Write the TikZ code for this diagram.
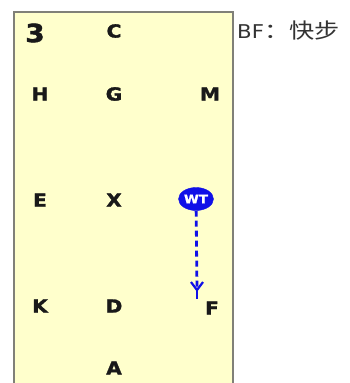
\documentclass[tikz,border=0pt]{standalone}
\usepackage{fontspec}
\setmainfont{DejaVu Sans}
\newfontfamily\letterfont[FakeStretch=1.12, BoldFeatures={FakeBold=1.6}]{DejaVu Sans}
\newfontfamily\cjk[FakeStretch=1.2]{Noto Sans CJK SC}
\usetikzlibrary{shapes.geometric}
\definecolor{arenafill}{HTML}{FFFFCC}
\definecolor{arenaline}{HTML}{808078}
\definecolor{riderblue}{HTML}{1010E8}
\tikzset{
    letter/.style={font=\letterfont\bfseries\fontsize{18}{18}\selectfont, inner sep=0pt, text=black!90},
    rider/.style={ellipse, fill=riderblue, draw=riderblue, minimum width=35pt, minimum height=23pt, inner sep=0pt, text=white, font=\letterfont\bfseries\fontsize{12}{12}\selectfont},
    wtline/.style={draw=riderblue, line width=2.8pt}
}
\begin{document}
\begin{tikzpicture}[x=1pt, y=-1pt]
        \useasboundingbox (0, 0) rectangle (349, 383);
        \clip (0, 0) rectangle (349, 383);
        \draw[fill=arenafill, draw=arenaline, line width=2pt] (14, 12) rectangle (233, 395);
        % letters round the arena
        \node[letter, font=\letterfont\bfseries\fontsize{25}{25}\selectfont] (num) at (35, 33) {3};
        \node[letter] (c) at (114, 31) {C};
        \node[letter] (h) at (40, 94) {H};
        \node[letter] (g) at (114, 94) {G};
        \node[letter] (m) at (210, 94) {M};
        \node[letter] (e) at (40, 200) {E};
        \node[letter] (x) at (114, 200) {X};
        \node[letter] (k) at (40, 306) {K};
        \node[letter] (d) at (114, 306) {D};
        \node[letter] (f) at (212, 308) {F};
        \node[letter] (a) at (114, 368) {A};
        \node[anchor=west, inner sep=0pt, font=\letterfont\fontsize{19}{19}\selectfont, text=black!80] (bf) at (237, 31) {BF{\cjk\fontsize{21}{21}\selectfont ：快步}};
        % rider
        \node[rider] (wt) at (196, 199) {WT};
        \coordinate (fork) at (197, 290);
        \coordinate (tip) at (197, 299);
        \draw[wtline, dash pattern=on 6pt off 4pt] (wt) -- (fork);
        \draw[wtline] (fork) -- (tip);
        \draw[draw=riderblue, line width=2.2pt] (191, 282) -- (fork) -- (203, 282);
    \end{tikzpicture}
\end{document}
